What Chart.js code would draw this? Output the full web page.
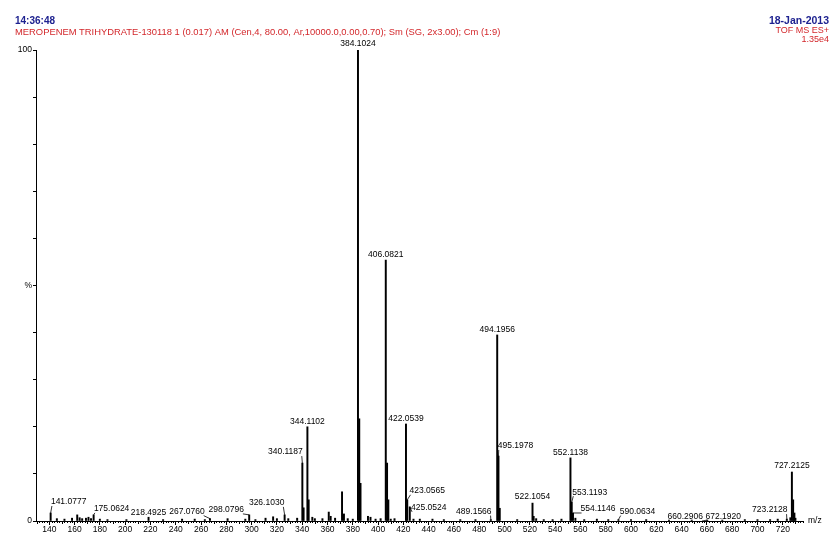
<!DOCTYPE html>
<html>
<head>
<meta charset="utf-8">
<script src="https://cdn.jsdelivr.net/npm/chart.js@4.4.1/dist/chart.umd.min.js"></script>
<style>
  html, body { margin: 0; padding: 0; background: #fff; }
  #wrap { width: 840px; height: 548px; position: relative; }
</style>
</head>
<body>
<div id="wrap"><canvas id="spectrum"></canvas></div>
<script>
// ── Spectrum data (m/z, relative intensity %) ────────────────────────────────
const peakMz = [
  141.0777, 146, 152, 158, 162.1, 164, 166, 169, 171, 173, 175.0624, 180, 186,
  201, 218.4925, 230, 245, 255, 263, 267.0760, 281, 295, 298.0796, 303, 311,
  317, 320, 326.1030, 329, 336, 340.1187, 341.1, 344.1102, 345.1, 348, 350,
  356, 361, 362.5, 366, 371.5, 373, 376, 380, 384.1024, 385.1, 386.1, 392,
  394, 398, 402, 406.0821, 407.1, 408.1, 410, 413, 422.0539, 423.0565,
  425.0524, 428, 433, 443, 452, 465, 477, 489.1566, 494.1956, 495.1978,
  496.2, 510, 522.1054, 523, 525, 531, 538, 545, 552.1138, 553.1193,
  554.1146, 556, 563, 573, 582, 590.0634, 600, 612, 630, 648, 660.2906,
  672.1920, 690, 700, 710, 716, 723.2128, 726, 727.2125, 728.2, 729.2, 730
];
const peakPct = [
  1.7, 0.5, 0.4, 0.6, 1.3, 0.7, 0.5, 0.6, 0.8, 0.5, 1.3, 0.4, 0.3,
  0.3, 0.8, 0.3, 0.4, 0.4, 0.3, 0.5, 0.5, 0.4, 1.3, 0.3, 0.6,
  0.9, 0.5, 1.3, 0.5, 0.6, 12.3, 2.8, 20.0, 4.5, 0.8, 0.5,
  0.5, 1.9, 1.0, 0.6, 6.2, 1.5, 0.5, 0.4, 100, 21.7, 8.0, 1.0,
  0.8, 0.4, 0.5, 55.4, 12.3, 4.5, 0.4, 0.5, 20.6, 4.5,
  3.0, 0.4, 0.4, 0.4, 0.3, 0.3, 0.3, 0.3, 39.5, 13.8,
  2.7, 0.3, 3.8, 1.0, 0.5, 0.3, 0.3, 0.4, 13.4, 4.0,
  1.7, 0.6, 0.3, 0.4, 0.3, 0.3, 0.3, 0.3, 0.2, 0.2, 0.2,
  0.2, 0.3, 0.3, 0.3, 0.4, 0.4, 0.7, 10.4, 4.5, 1.7, 0.6
];

// annotated peaks
const labelledMz = [
  "141.0777", "175.0624", "218.4925", "267.0760", "298.0796", "326.1030",
  "340.1187", "344.1102", "384.1024", "406.0821", "422.0539", "423.0565",
  "425.0524", "489.1566", "494.1956", "495.1978", "522.1054", "552.1138",
  "553.1193", "554.1146", "590.0634", "660.2906", "672.1920", "723.2128",
  "727.2125"
];

const xTicks = [140, 160, 180, 200, 220, 240, 260, 280, 300, 320, 340, 360, 380,
  400, 420, 440, 460, 480, 500, 520, 540, 560, 580, 600, 620, 640, 660, 680, 700, 720];
const yTicks = [0, 100];

const headerLeft = ["14:36:48",
  "MEROPENEM TRIHYDRATE-130118 1 (0.017) AM (Cen,4, 80.00, Ar,10000.0,0.00,0.70); Sm (SG, 2x3.00); Cm (1:9)"];
const headerRight = ["18-Jan-2013", "TOF MS ES+", "1.35e4"];

// label placement (px from peak top to label centre), same order as labelledMz
const labelNudge = [
  [18, -11], [18, -6], [0, -5], [-23, -7], [-23, -5], [-18, -12],
  [-17, -11], [0, -5], [0, -6], [0, -5], [0, -5], [20, -9],
  [19, 1], [-17, -8], [0, -5], [17, -10], [0, -6], [0, -5],
  [18, -10], [25, -4], [19, -8], [-22, -3], [1, -3], [-17, -9],
  [0, -6]
];

const FONT = "'Liberation Sans', Arial, sans-serif";
const BLUE = "#1e2290";
const RED = "#d3272b";

// ── Plugins ─────────────────────────────────────────────────────────────────

const peakLabels = {
  id: "peakLabels",
  afterDatasetsDraw(chart) {
    const { ctx, scales: { x, y } } = chart;
    ctx.save();
    ctx.font = "8.5px " + FONT;
    ctx.fillStyle = "#000";
    ctx.strokeStyle = "#000";
    ctx.lineWidth = 0.8;
    ctx.textAlign = "center";
    ctx.textBaseline = "middle";
    labelledMz.forEach((txt, i) => {
      const mz = parseFloat(txt);
      const idx = peakMz.indexOf(mz);
      const px = x.getPixelForValue(mz);
      const py = y.getPixelForValue(peakPct[idx]);
      const [dx, dy] = labelNudge[i];
      const cx = px + dx, cy = py + dy;
      ctx.fillText(txt, cx, cy);
      if (Math.abs(dx) > 4) {
        const w = ctx.measureText(txt).width;
        const ex = dx > 0 ? cx - w / 2 + 1 : cx + w / 2 - 1;
        ctx.beginPath();
        ctx.moveTo(px, py);
        ctx.lineTo(ex, cy + 4);
        ctx.stroke();
      }
    });
    ctx.restore();
  }
};

const chrome = {
  id: "chrome",
  afterDraw(chart) {
    const { ctx, chartArea, scales: { x } } = chart;
    ctx.save();
    // minor ticks on m/z axis
    ctx.strokeStyle = "#000";
    ctx.lineWidth = 1;
    ctx.beginPath();
    for (let m = 130; m <= 736; m += 2) {
      if (m % 20 === 0) continue;
      const px = Math.round(x.getPixelForValue(m)) + 0.5;
      const len = m % 10 === 0 ? 3 : 2;
      ctx.moveTo(px, chartArea.bottom);
      ctx.lineTo(px, chartArea.bottom + len);
    }
    ctx.stroke();

    ctx.textBaseline = "middle";
    ctx.fillStyle = "#000";
    ctx.font = "8.5px " + FONT;
    ctx.textAlign = "left";
    ctx.fillText("m/z", chartArea.right + 5, chartArea.bottom);

    ctx.fillStyle = BLUE;
    ctx.font = "bold 10px " + FONT;
    ctx.fillText(headerLeft[0], 15, 21);
    ctx.fillStyle = RED;
    ctx.font = "9.4px " + FONT;
    ctx.fillText(headerLeft[1], 15, 32);

    ctx.textAlign = "right";
    ctx.fillStyle = BLUE;
    ctx.font = "bold 10.5px " + FONT;
    ctx.fillText(headerRight[0], 829, 21);
    ctx.fillStyle = RED;
    ctx.font = "9px " + FONT;
    ctx.fillText(headerRight[1], 829, 31);
    ctx.fillText(headerRight[2], 829, 40);
    ctx.restore();
  }
};

// ── Chart ───────────────────────────────────────────────────────────────────

new Chart(document.getElementById("spectrum"), {
  type: "bar",
  data: {
    datasets: [{
      data: peakMz.map((m, i) => ({ x: m, y: peakPct[i] })),
      backgroundColor: "#000",
      borderWidth: 0,
      barThickness: 1.3,
      grouped: false
    }]
  },
  options: {
    responsive: true,
    maintainAspectRatio: false,
    animation: false,
    devicePixelRatio: 1,
    layout: { padding: { left: 0, right: 37, top: 50, bottom: 0 } },
    plugins: { legend: { display: false }, tooltip: { enabled: false } },
    scales: {
      x: {
        type: "linear",
        offset: false,
        min: 129.5,
        max: 736,
        afterFit(s) { s.height = 27; },
        afterBuildTicks(s) { s.ticks = xTicks.map((v) => ({ value: v })); },
        border: { color: "#000", width: 1 },
        grid: { drawOnChartArea: false, offset: false, color: "#000", tickLength: 4 },
        ticks: {
          autoSkip: false, maxRotation: 0, color: "#000", padding: 0,
          font: { size: 8.5, family: FONT }
        }
      },
      y: {
        min: 0,
        max: 100,
        afterFit(s) { s.width = 36; },
        afterBuildTicks(s) {
          s.ticks = [0, 10, 20, 30, 40, 50, 60, 70, 80, 90, 100].map((v) => ({ value: v }));
        },
        border: { color: "#000", width: 1 },
        grid: { drawOnChartArea: false, color: "#000", tickLength: 3 },
        ticks: {
          autoSkip: false, color: "#000", padding: 1,
          font: { size: 8.5, family: FONT },
          callback: (v) => yTicks.includes(v) ? v : (v === 50 ? "%" : "")
        }
      }
    }
  },
  plugins: [peakLabels, chrome]
});
</script>
</body>
</html>
